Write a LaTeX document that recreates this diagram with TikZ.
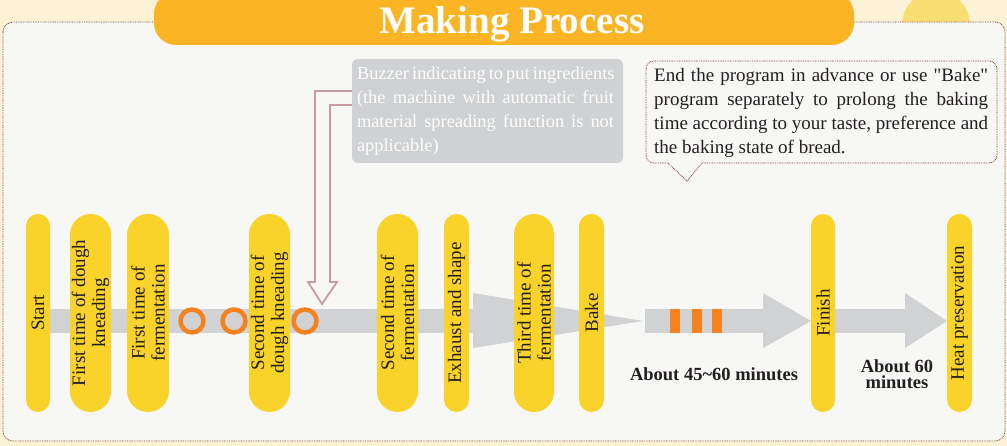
\documentclass[tikz,border=0pt]{standalone}
\usepackage{fontspec}
\setmainfont{Liberation Serif}
\definecolor{bgcream}{HTML}{FCF3D6}
\definecolor{panelbg}{HTML}{F7F7F5}
\definecolor{dotbrown}{HTML}{7E3B30}
\definecolor{bannerorange}{HTML}{FBB424}
\definecolor{pillyellow}{HTML}{F9D22A}
\definecolor{flowgray}{HTML}{D1D2D4}
\definecolor{buzzgray}{HTML}{D0D1D3}
\definecolor{ringorange}{HTML}{F5821F}
\definecolor{pinkline}{HTML}{C99AA2}
\definecolor{textdark}{HTML}{231F20}
\definecolor{blobyellow}{HTML}{F9DF72}
\newcommand{\jline}[2]{\makebox[#1][s]{#2}}
\begin{document}
\begin{tikzpicture}[x=1pt,y=-1pt,
  dotline/.style={draw=dotbrown, line width=0.8pt, dash pattern=on 0.8pt off 0.9pt},
  pill/.style={fill=pillyellow, rotate=90, minimum width=198pt, inner sep=0pt,
    align=center, text=textdark, font=\fontsize{19}{20}\selectfont},
  flow/.style={fill=flowgray},
  ring/.style={draw=ringorange, line width=4.5pt},
  tick/.style={fill=ringorange},
  boldlabel/.style={font=\fontsize{18.5}{16}\selectfont\bfseries, text=textdark, inner sep=0pt, align=center},
]
\useasboundingbox (0,0) rectangle (1007,446);
\clip (0,0) rectangle (1007,446);
% background
\fill[bgcream] (0,0) rectangle (1007,446);
\fill[blobyellow] (936,25) circle (34);
% panel
\draw[dotline, fill=panelbg, rounded corners=10pt] (3,22) rectangle (1005,441);
% banner
\fill[bannerorange, rounded corners=22pt] (154,-8) rectangle (854,45);
\node[font=\fontsize{39}{39}\selectfont\bfseries, text=white, inner sep=0pt, anchor=base] (title) at (512,34) {Making Process};

% flow arrows
\fill[flow] (38,309) rectangle (473,333);
\fill[flow] (473,293) -- (643,321) -- (473,348) -- cycle;
\fill[flow] (645,309) rectangle (763,333);
\fill[flow] (763,293) -- (811,321) -- (763,348) -- cycle;
\fill[flow] (835,309) rectangle (905,333);
\fill[flow] (905,293) -- (947,321) -- (905,348) -- cycle;

% rings and ticks
\draw[ring] (192,321) circle (11.5);
\draw[ring] (234,321) circle (11.5);
\draw[ring] (305,321) circle (11.5);
\fill[tick] (670,309) rectangle (680,333);
\fill[tick] (692,309) rectangle (702,333);
\fill[tick] (712,309) rectangle (722,333);

% pills
\node[pill, minimum height=24pt, rounded corners=12pt] (start) at (38,313) {Start};
\node[pill, minimum height=41pt, rounded corners=20.5pt] (knead1) at (90.5,313) {First time of dough\\kneading};
\node[pill, minimum height=42pt, rounded corners=21pt] (ferm1) at (148,313) {First time of\\fermentation};
\node[pill, minimum height=41pt, rounded corners=20.5pt] (knead2) at (269.5,313) {Second time of\\dough kneading};
\node[pill, minimum height=41pt, rounded corners=20.5pt] (ferm2) at (397.5,313) {Second time of\\fermentation};
\node[pill, minimum height=25pt, rounded corners=12.5pt] (exhaust) at (456.5,313) {Exhaust and shape};
\node[pill, minimum height=40pt, rounded corners=20pt] (ferm3) at (534,313) {Third time of\\fermentation};
\node[pill, minimum height=25pt, rounded corners=12.5pt] (bake) at (591.5,313) {Bake};
\node[pill, minimum height=24pt, rounded corners=12pt] (finish) at (823,313) {Finish};
\node[pill, minimum height=25pt, rounded corners=12.5pt] (heat) at (959.5,313) {Heat preservation};

% time labels
\node[boldlabel, anchor=base] (t1) at (714,381) {About 45\textasciitilde60 minutes};
\node[boldlabel] (t2) at (897,374) {About 60\\minutes};

% buzzer box
\node[fill=buzzgray, rounded corners=6pt, minimum width=271pt, minimum height=104pt, inner sep=0pt] (buzz) at (487.5,111) {};
\node[anchor=west, inner sep=0pt, align=left, text=white!95!buzzgray, font=\fontsize{18.4}{24}\selectfont] (buzztext) at ([xshift=5pt]buzz.west) {\jline{257pt}{Buzzer indicating to put ingredients}\\\jline{257pt}{(the machine with automatic fruit}\\\jline{257pt}{material spreading function is not}\\applicable)};
\coordinate (ptip) at (322,304);
\draw[pinkline, line width=1.8pt, line join=miter] (buzz.west |- 0,91) -- (315,91) -- (315,282) -- (308,282) -- (ptip) -- (337,282) -- (330,282) -- (330,105) -- (buzz.west |- 0,105);

% callout
\draw[dotline, fill=panelbg] (702,163) [rounded corners=8pt] -- (997,163) -- (997,61) -- (646,61) -- (646,163) [sharp corners] -- (668,163) -- (687,181) -- cycle;
\node[anchor=west, inner sep=0pt, align=left, text=textdark, font=\fontsize{19}{24}\selectfont] (note) at (654,113) {\jline{334pt}{End the program in advance or use \textquotedbl Bake\textquotedbl}\\\jline{334pt}{program separately to prolong the baking}\\\jline{334pt}{time according to your taste, preference and}\\the baking state of bread.};
\end{tikzpicture}
\end{document}
